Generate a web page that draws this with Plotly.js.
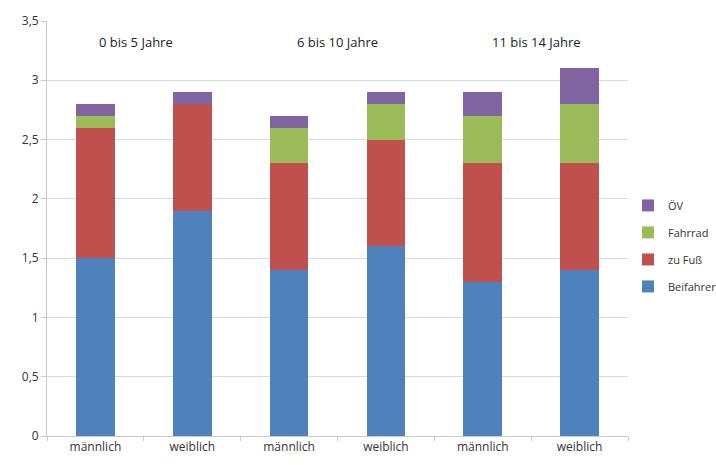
<!DOCTYPE html>
<html>
<head>
<meta charset="utf-8">
<script src="https://cdn.plot.ly/plotly-3.0.1.min.js"></script>
<style>html,body{margin:0;padding:0;background:#fff;}#chart{width:716px;height:465px;}</style>
</head>
<body>
<div id="chart"></div>
<script>
const xLabels = ["männlich", "weiblich", "männlich", "weiblich", "männlich", "weiblich"];
const groupLabels = ["0 bis 5 Jahre", "6 bis 10 Jahre", "11 bis 14 Jahre"];
const beifahrer = [1.5, 1.9, 1.4, 1.6, 1.3, 1.4];
const zuFuss    = [1.1, 0.9, 0.9, 0.9, 1.0, 0.9];
const fahrrad   = [0.1, 0.0, 0.3, 0.3, 0.4, 0.5];
const oev       = [0.1, 0.1, 0.1, 0.1, 0.2, 0.3];
const yTicks = [0, 0.5, 1, 1.5, 2, 2.5, 3, 3.5];
const yTickText = ["0", "0,5", "1", "1,5", "2", "2,5", "3", "3,5"];

const xs = xLabels.map((_, i) => i);
const mk = (name, y, color, rank) => ({type: 'bar', name: name, legendgroup: name, legendrank: rank, x: xs, y: y, marker: {color: color}, hoverinfo: 'y+name'});
const data = [
  mk('Beifahrer', beifahrer, '#4F81BD', 4),
  mk('zu Fuß', zuFuss, '#C0504D', 3),
  mk('Fahrrad', fahrrad, '#9BBB59', 2),
  mk('ÖV', oev, '#8064A2', 1)
];
const groupX = [0.42, 2.5, 4.55];
const layout = {
  width: 716, height: 465,
  margin: {l: 47, r: 88, t: 21, b: 29, autoexpand: false},
  paper_bgcolor: '#fff', plot_bgcolor: '#fff',
  barmode: 'stack', bargap: 0.6,
  font: {family: 'Open Sans, sans-serif', size: 12, color: '#404040'},
  xaxis: {
    range: [-0.5, 5.5], tickvals: xs, ticktext: xLabels, ticks: '',
    showgrid: false, zeroline: false, showline: true, linecolor: '#c8c8c8',
    tickfont: {size: 12, color: '#333'},
    minor: {tick0: 0.5, dtick: 1, ticks: 'outside', ticklen: 4, tickcolor: '#c8c8c8'}
  },
  yaxis: {
    range: [0, 3.5], tickvals: yTicks, ticktext: yTickText,
    showgrid: true, gridcolor: '#d9d9d9', zeroline: false,
    showline: true, linecolor: '#c8c8c8', ticks: 'outside', ticklen: 5, tickcolor: '#c8c8c8',
    tickfont: {size: 12, color: '#333'}
  },
  showlegend: true,
  legend: {x: 1.0, xanchor: 'left', y: 0.458, yanchor: 'middle', traceorder: 'grouped',
           font: {size: 11, color: '#333'}, itemwidth: 30, tracegroupgap: 8},
  annotations: groupLabels.map((t, i) => ({
    text: t, x: groupX[i], y: 3.32, xref: 'x', yref: 'y', showarrow: false,
    font: {size: 13, color: '#222'}
  }))
};
Plotly.newPlot('chart', data, layout, {displayModeBar: false, staticPlot: true});
</script>
</body>
</html>
